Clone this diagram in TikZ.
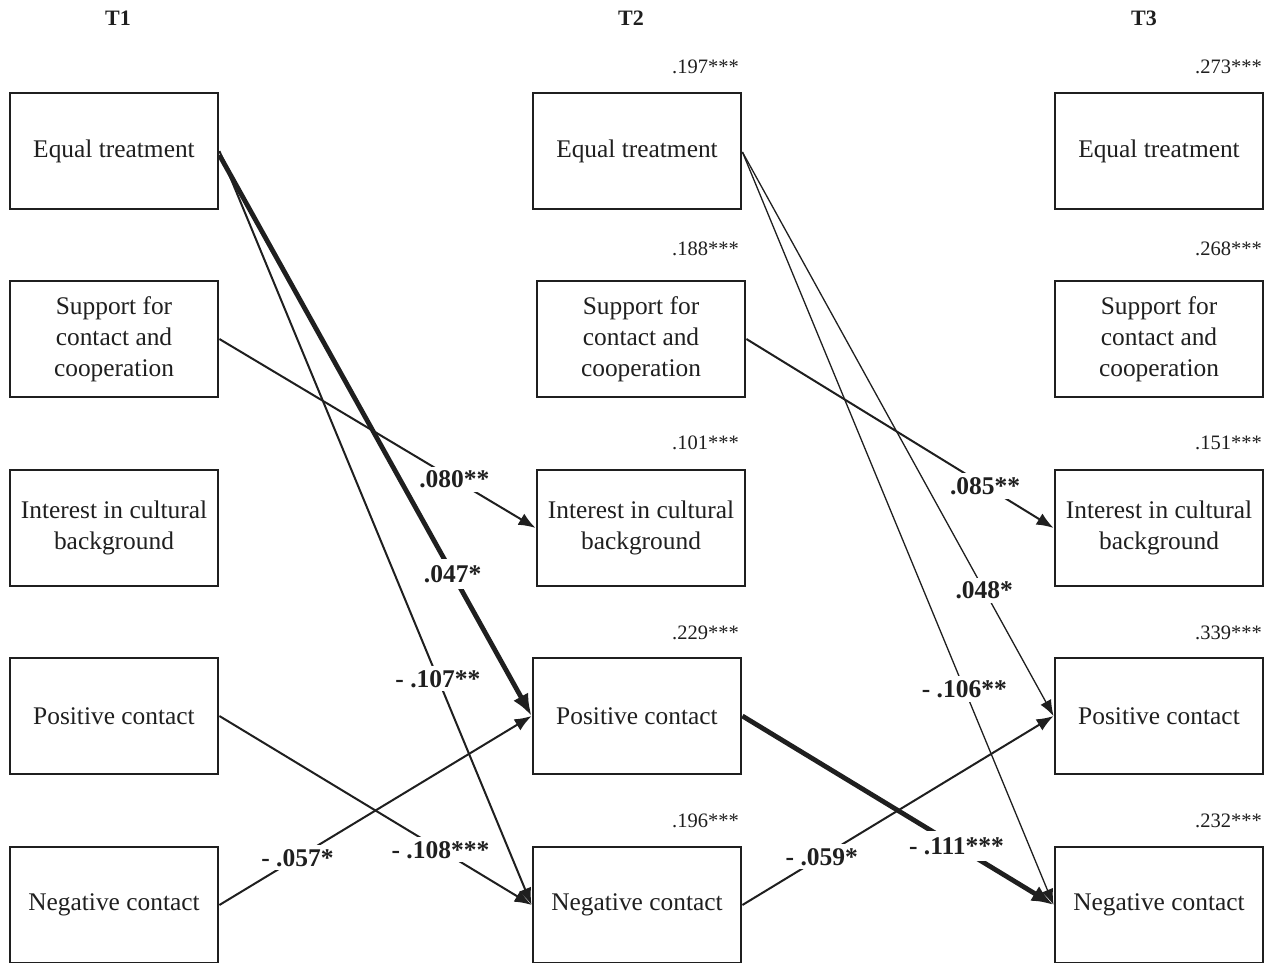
\documentclass[tikz,border=0pt]{standalone}
\usepackage{fontspec}
\setmainfont{Liberation Serif}
\usetikzlibrary{arrows.meta}
\tikzset{
  box/.style={draw=black!88, line width=2.8pt, minimum width=208pt, minimum height=116pt, align=center, inner sep=0pt, font=\fontsize{25.4}{31}\selectfont, text=black!88},
  hdr/.style={font=\bfseries\fontsize{22}{24}\selectfont, text=black!88},
  rsq/.style={font=\fontsize{20.5}{22}\selectfont, anchor=east, text=black!88, inner sep=0pt},
  coef/.style={font=\bfseries\fontsize{25.5}{28}\selectfont, fill=white, inner sep=4pt, text=black!88},
  thinp/.style={draw=black!88, line width=1.3pt, -{Latex[length=16pt,width=12pt]}},
  medp/.style={draw=black!88, line width=2pt, -{Latex[length=17pt,width=13pt]}},
  thickp/.style={draw=black!88, line width=4.8pt, -{Latex[length=22pt,width=17pt]}},
}
\begin{document}
\begin{tikzpicture}[x=1pt,y=-1pt]
\useasboundingbox (0,0) rectangle (1269,963);
% headers
\node[hdr] (h1) at (118,18) {T1};
\node[hdr] (h2) at (631,18) {T2};
\node[hdr] (h3) at (1144,18) {T3};
% T1
\node[box] (eq1) at (114,151) {Equal treatment};
\node[box] (su1) at (114,339) {Support for\\contact and\\cooperation};
\node[box] (in1) at (114,528) {Interest in cultural\\background};
\node[box] (po1) at (114,716) {Positive contact};
\node[box] (ne1) at (114,905) {Negative contact};
% T2
\node[box] (eq2) at (637,151) {Equal treatment};
\node[box] (su2) at (641,339) {Support for\\contact and\\cooperation};
\node[box] (in2) at (641,528) {Interest in cultural\\background};
\node[box] (po2) at (637,716) {Positive contact};
\node[box] (ne2) at (637,905) {Negative contact};
% T3
\node[box] (eq3) at (1159,151) {Equal treatment};
\node[box] (su3) at (1159,339) {Support for\\contact and\\cooperation};
\node[box] (in3) at (1159,528) {Interest in cultural\\background};
\node[box] (po3) at (1159,716) {Positive contact};
\node[box] (ne3) at (1159,905) {Negative contact};
% R squared
\node[rsq] (r21) at (739,67) {.197***};
\node[rsq] (r22) at (739,249) {.188***};
\node[rsq] (r23) at (739,443) {.101***};
\node[rsq] (r24) at (739,633) {.229***};
\node[rsq] (r25) at (739,821) {.196***};
\node[rsq] (r31) at (1262,67) {.273***};
\node[rsq] (r32) at (1262,249) {.268***};
\node[rsq] (r33) at (1262,443) {.151***};
\node[rsq] (r34) at (1262,633) {.339***};
\node[rsq] (r35) at (1262,821) {.232***};
% T1 -> T2
\draw[medp] (eq1.east) -- node[coef, pos=0.70] {- .107**} (ne2.west);
\draw[thickp] ([yshift=-4pt]eq1.east) -- node[coef, pos=0.747, inner sep=6pt] {.047*} (po2.west);
\draw[medp] (su1.east) -- node[coef, pos=0.743] {.080**} (in2.west);
\draw[medp] (po1.east) -- node[coef, pos=0.708] {- .108***} (ne2.west);
\draw[medp] (ne1.east) -- node[coef, pos=0.25] {- .057*} (po2.west);
% T2 -> T3
\draw[thinp] ([yshift=-1pt]eq2.east) -- node[coef, pos=0.777] {.048*} (po3.west);
\draw[thinp] ([yshift=-1pt]eq2.east) -- node[coef, pos=0.713] {- .106**} (ne3.west);
\draw[medp] (su2.east) -- node[coef, pos=0.777] {.085**} (in3.west);
\draw[thickp] (po2.east) -- node[coef, pos=0.688, inner sep=6pt] {- .111***} (ne3.west);
\draw[medp] (ne2.east) -- node[coef, pos=0.255] {- .059*} (po3.west);
\end{tikzpicture}
\end{document}
